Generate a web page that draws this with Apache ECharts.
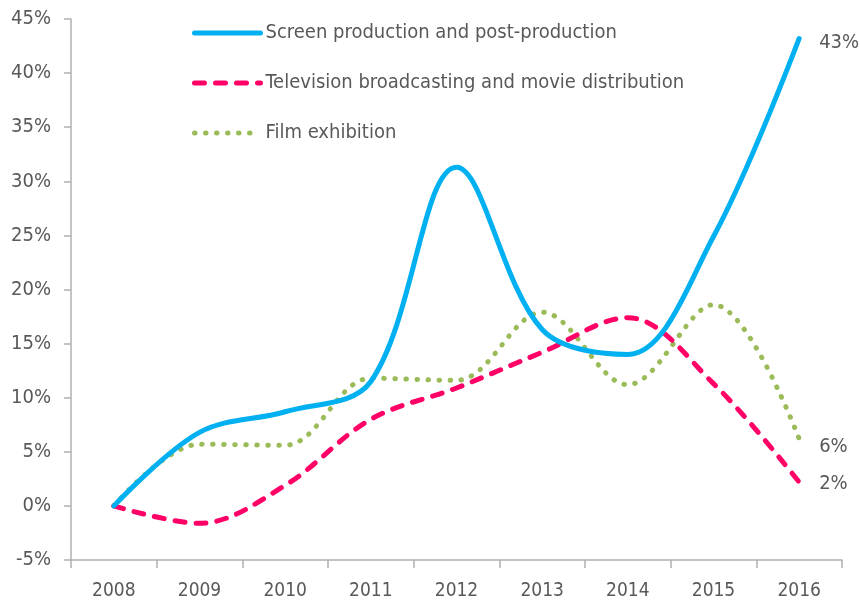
<!DOCTYPE html>
<html>
<head>
<meta charset="utf-8">
<script src="https://cdn.jsdelivr.net/npm/echarts@6/dist/echarts.min.js"></script>
<style>
  html, body { margin: 0; padding: 0; background: #fff; }
  #main { width: 860px; height: 605px; }
</style>
</head>
<body>
<div id="main"></div>
<script>
var years = ['2008', '2009', '2010', '2011', '2012', '2013', '2014', '2015', '2016'];
var screenProd = [0, 6.8, 8.7, 11.5, 31.3, 16.3, 14.0, 24.9, 43.2];
var tvBroadcast = [0, -1.6, 1.9, 8.0, 10.9, 14.2, 17.4, 11.3, 2.2];
var filmExhib = [0, 5.7, 5.6, 11.8, 11.6, 17.9, 11.2, 18.6, 6.2];

var textFont = "'Liberation Sans Narrow', 'DejaVu Sans Condensed', 'Roboto', sans-serif";
var textColor = '#595959';
var axisColor = '#b0b0b0';

function endLbl(p) {
    return Math.round(p.value) + '%';
}

var option = {
    animation: false,
    textStyle: { fontFamily: textFont },
    grid: { left: 71, right: 18, top: 19, bottom: 45 },
    legend: {
        orient: 'vertical',
        left: 187,
        top: 18,
        itemWidth: 66,
        itemHeight: 14,
        itemGap: 30,
        itemStyle: { opacity: 0 },
        lineStyle: { width: 5, cap: 'round' },
        textStyle: { color: textColor, fontSize: 20, fontFamily: textFont },
        data: ['Screen production and post-production', 'Television broadcasting and movie distribution', 'Film exhibition']
    },
    xAxis: [
        {
            type: 'category',
            data: years,
            boundaryGap: true,
            position: 'bottom',
            axisLine: { show: false },
            axisTick: { show: false },
            axisLabel: { color: textColor, fontSize: 19, margin: 22 }
        },
        {
            type: 'category',
            data: years,
            boundaryGap: true,
            position: 'bottom',
            axisLine: { show: true, onZero: true, lineStyle: { color: axisColor, width: 1.5 } },
            axisTick: { show: true, length: 8, lineStyle: { color: axisColor, width: 1.5 } },
            axisLabel: { show: false }
        }
    ],
    yAxis: {
        type: 'value',
        min: -5,
        max: 45,
        interval: 5,
        splitLine: { show: false },
        axisLine: { show: true, lineStyle: { color: axisColor, width: 1.5 } },
        axisTick: { show: true, length: 7, lineStyle: { color: axisColor, width: 1.5 } },
        axisLabel: { color: textColor, fontSize: 20, margin: 20, formatter: '{value}%' }
    },
    series: [
        {
            name: 'Screen production and post-production',
            type: 'line',
            data: screenProd,
            smooth: 0.35,
            symbol: 'none',
            z: 3,
            lineStyle: { color: '#00b0f0', width: 5, cap: 'round' },
            itemStyle: { color: '#00b0f0' },
            endLabel: { show: true, formatter: endLbl, color: textColor, fontSize: 20, distance: 20, offset: [0, 4] }
        },
        {
            name: 'Television broadcasting and movie distribution',
            type: 'line',
            data: tvBroadcast,
            smooth: 0.35,
            symbol: 'none',
            z: 2,
            lineStyle: { color: '#ff0066', width: 5, type: [10, 11], cap: 'round' },
            itemStyle: { color: '#ff0066' },
            endLabel: { show: true, formatter: endLbl, color: textColor, fontSize: 20, distance: 20, offset: [0, 2] }
        },
        {
            name: 'Film exhibition',
            type: 'line',
            data: filmExhib,
            smooth: 0.35,
            symbol: 'none',
            z: 1,
            lineStyle: { color: '#9bbb59', width: 5, type: [0.5, 10.5], cap: 'round' },
            itemStyle: { color: '#9bbb59' },
            endLabel: { show: true, formatter: endLbl, color: textColor, fontSize: 20, distance: 20, offset: [0, 8] }
        }
    ]
};

var chart = echarts.init(document.getElementById('main'));
chart.setOption(option);
</script>
</body>
</html>
